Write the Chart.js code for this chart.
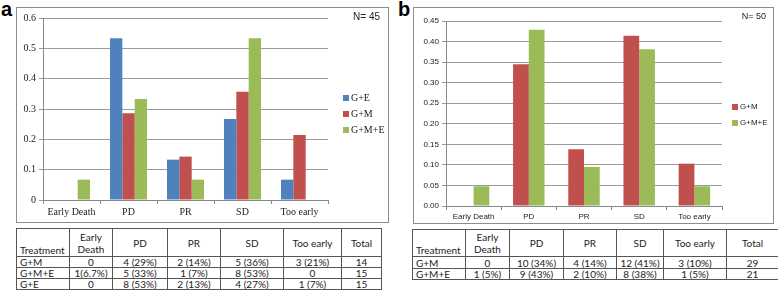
<!DOCTYPE html>
<html>
<head>
<meta charset="utf-8">
<script src="https://cdn.jsdelivr.net/npm/chart.js@4.4.0/dist/chart.umd.min.js"></script>
<style>
  html, body { margin:0; padding:0; background:#fff; width:778px; height:299px; overflow:hidden; }
  .lbl { position:absolute; font-family:"Liberation Sans", Arial, sans-serif; font-weight:bold; font-size:20px; line-height:20px; color:#000; }
  .frame { position:absolute; border:1px solid #8c8c8c; box-sizing:border-box; }
  .cv { position:absolute; }
  table { position:absolute; border-collapse:collapse; font-family:Lato, "Open Sans", sans-serif; font-size:10px; color:#222; table-layout:fixed; }
  td { border:1px solid #555; padding:0; text-align:center; line-height:10px; overflow:hidden; white-space:nowrap; }
  td.tl { text-align:left; padding-left:3px; }
  tr.hd td { line-height:12px; }
  tr.hd td.tl { vertical-align:bottom; }
</style>
</head>
<body>
<div class="lbl" style="left:1px;top:-1px;">a</div>
<div class="lbl" style="left:398px;top:-1px;">b</div>

<div class="frame" style="left:16px;top:7px;width:373px;height:216px;"></div>
<div class="cv" style="left:17px;top:8px;width:370px;height:213px;"><canvas id="ca" width="370" height="213"></canvas></div>

<div class="frame" style="left:413px;top:7px;width:361px;height:217px;"></div>
<div class="cv" style="left:414px;top:8px;width:358px;height:214px;"><canvas id="cb" width="358" height="214"></canvas></div>

<table id="ta" style="left:16px;top:228px;width:365px;"></table>
<table id="tb" style="left:412px;top:229px;width:366px;"></table>

<script>
// ---- data ----
const categories = ['Early Death', 'PD', 'PR', 'SD', 'Too early'];
const seriesA = ['G+E', 'G+M', 'G+M+E'];
const aGE  = [0, 0.533, 0.133, 0.267, 0.067];
const aGM  = [0, 0.286, 0.143, 0.357, 0.214];
const aGME = [0.067, 0.333, 0.067, 0.533, 0];
const seriesB = ['G+M', 'G+M+E'];
const bGM  = [0, 0.345, 0.138, 0.414, 0.103];
const bGME = [0.048, 0.429, 0.095, 0.381, 0.048];
const nA = 'N= 45';
const nB = 'N= 50';

const tableHeader = ['Treatment', 'Early<br>Death', 'PD', 'PR', 'SD', 'Too early', 'Total'];
const tableARows = [
  ['G+M', '0', '4 (29%)', '2 (14%)', '5 (36%)', '3 (21%)', '14'],
  ['G+M+E', '1(6.7%)', '5 (33%)', '1 (7%)', '8 (53%)', '0', '15'],
  ['G+E', '0', '8 (53%)', '2 (13%)', '4 (27%)', '1 (7%)', '15']
];
const tableBRows = [
  ['G+M', '0', '10 (34%)', '4 (14%)', '12 (41%)', '3 (10%)', '29'],
  ['G+M+E', '1 (5%)', '9 (43%)', '2 (10%)', '8 (38%)', '1 (5%)', '21']
];

const BLUE = '#4F81BD', RED = '#C0504D', GREEN = '#9BBB59';

// ---- tables ----
function buildTable(id, widths, rows, hdH, rowHs) {
  const t = document.getElementById(id);
  let html = '<colgroup>' + widths.map(w => '<col style="width:' + w + 'px">').join('') + '</colgroup>';
  html += '<tr class="hd" style="height:' + hdH + 'px">' + tableHeader.map((h, i) =>
    '<td' + (i === 0 ? ' class="tl"' : '') + '>' + h + '</td>').join('') + '</tr>';
  rows.forEach((r, ri) => {
    html += '<tr style="height:' + rowHs[ri] + 'px">' + r.map((c, i) =>
      '<td' + (i === 0 ? ' class="tl"' : '') + '>' + c + '</td>').join('') + '</tr>';
  });
  t.innerHTML = html;
}
buildTable('ta', [53, 43, 55, 53, 63, 58, 40], tableARows, 28, [11, 10, 10]);
buildTable('tb', [53, 44, 54, 53, 47, 63, 52], tableBRows, 27, [12, 10]);

// ---- charts ----
function legendPlugin(cfg) {
  return {
    id: 'customLegend',
    afterDraw(chart) {
      const ctx = chart.ctx;
      ctx.save();
      ctx.font = cfg.font;
      ctx.textBaseline = 'middle';
      chart.data.datasets.forEach((ds, i) => {
        const y = cfg.y0 + i * cfg.dy;
        ctx.fillStyle = ds.backgroundColor;
        ctx.fillRect(cfg.x, y - cfg.box / 2, cfg.box, cfg.box);
        ctx.fillStyle = '#222';
        ctx.textAlign = 'left';
        ctx.fillText(ds.label, cfg.x + cfg.box + 2, y);
      });
      ctx.textAlign = 'right';
      ctx.font = cfg.nFont;
      ctx.fillText(cfg.nText, cfg.nx, cfg.ny);
      ctx.restore();
    }
  };
}

function makeChart(id, labels, datasets, opts) {
  return new Chart(document.getElementById(id), {
    type: 'bar',
    data: { labels: categories, datasets: datasets },
    options: {
      responsive: false,
      animation: false,
      events: [],
      layout: { padding: { left: 0, top: opts.top, right: opts.right, bottom: 0 } },
      plugins: { legend: { display: false }, tooltip: { enabled: false } },
      datasets: { bar: { categoryPercentage: opts.catPct, barPercentage: 1.0, borderWidth: 0 } },
      scales: {
        x: {
          offset: true,
          grid: { offset: true, drawOnChartArea: false, drawTicks: true, tickLength: 4, color: '#888' },
          border: { color: '#888' },
          ticks: { color: '#222', font: opts.font, padding: 2, maxRotation: 0, autoSkip: false },
          afterFit: s => { s.height = opts.xH; }
        },
        y: {
          min: 0, max: opts.max,
          grid: { color: '#9a9a9a', tickLength: 4, drawTicks: true },
          border: { color: '#888' },
          ticks: { stepSize: opts.step, color: '#222', font: opts.font, padding: 3, callback: opts.fmt },
          afterFit: s => { s.width = opts.yW; }
        }
      }
    },
    plugins: [legendPlugin(opts.legend)]
  });
}

makeChart('ca', categories, [
  { label: seriesA[0], data: aGE, backgroundColor: BLUE },
  { label: seriesA[1], data: aGM, backgroundColor: RED },
  { label: seriesA[2], data: aGME, backgroundColor: GREEN }
], {
  top: 10, right: 59, xH: 21, yW: 26, max: 0.6, step: 0.1, catPct: 0.65,
  font: { family: '"Liberation Serif", "DejaVu Serif", serif', size: 10 },
  fmt: v => (Math.abs(v) < 1e-9 ? '0' : (Math.round(v * 10) / 10).toString()),
  legend: { x: 326, y0: 90, dy: 16, box: 6, font: '10px "Liberation Serif", serif',
            nText: nA, nx: 363, ny: 9, nFont: '10px "Liberation Sans", sans-serif' }
});

makeChart('cb', categories, [
  { label: seriesB[0], data: bGM, backgroundColor: RED },
  { label: seriesB[1], data: bGME, backgroundColor: GREEN }
], {
  top: 13, right: 50, xH: 16, yW: 32, max: 0.45, step: 0.05, catPct: 0.57,
  font: { family: '"Liberation Sans", Arial, sans-serif', size: 8 },
  fmt: v => v.toFixed(2),
  legend: { x: 318, y0: 99, dy: 16, box: 6, font: '8px "Liberation Sans", sans-serif',
            nText: nB, nx: 352, ny: 9, nFont: '9px "Liberation Sans", sans-serif' }
});
</script>
</body>
</html>
